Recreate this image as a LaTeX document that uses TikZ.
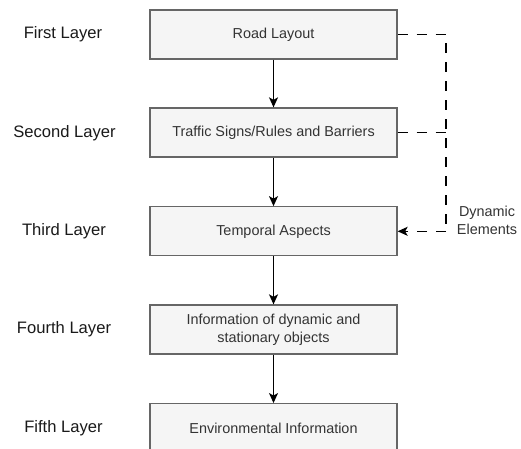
\documentclass[tikz,border=0pt]{standalone}
\usepackage{fontspec}
\setmainfont{Liberation Sans}
\usetikzlibrary{arrows.meta}
\definecolor{boxfill}{HTML}{F5F5F5}
\definecolor{boxline}{HTML}{666666}
\definecolor{boxtext}{HTML}{333333}
\definecolor{lbltext}{HTML}{1A1A1A}
\tikzset{
  layerbox/.style={draw=boxline, fill=boxfill, line width=1.3pt, minimum width=247pt, minimum height=49pt, inner sep=0pt, text=boxtext, font=\fontsize{14.4pt}{18.3pt}\selectfont, align=center},
  layerlbl/.style={text=lbltext, font=\fontsize{16.6pt}{20pt}\selectfont, inner sep=0pt},
  sidelbl/.style={text=boxtext, font=\fontsize{14.4pt}{18.3pt}\selectfont, align=center, inner sep=0pt},
  tip/.style={-{Stealth[length=10pt,width=9pt,inset=2.5pt]}},
  flow/.style={line width=1.3pt, tip},
  dashline/.style={line width=1.3pt, dash pattern=on 10pt off 9pt},
}
\begin{document}
\begin{tikzpicture}[x=1pt,y=-1pt]
\useasboundingbox (0,0) rectangle (521,448);
\clip (0,0) rectangle (521,448);
\fill[white] (0,0) rectangle (521,448);
\node[layerbox] (b1) at (273.5,34.5) {Road Layout};
\node[layerbox] (b2) at (273.5,132.5) {Traffic Signs/Rules and Barriers};
\node[layerbox] (b3) at (273.5,231.3) {Temporal Aspects};
\node[layerbox] (b4) at (273.5,329.5) {Information of dynamic and\\stationary objects};
\node[layerbox] (b5) at (273.5,428.2) {Environmental Information};
\node[layerlbl] (l1) at (63,34) {First Layer};
\node[layerlbl] (l2) at (64.5,133) {Second Layer};
\node[layerlbl] (l3) at (64,231) {Third Layer};
\node[layerlbl] (l4) at (64,329) {Fourth Layer};
\node[layerlbl] (l5) at (63.5,428) {Fifth Layer};
\node[sidelbl] (dyn) at (487,220) {Dynamic\\Elements};
\coordinate (dj) at (446,231.3);
\draw[flow] (b1) -- (b2);
\draw[flow] (b2) -- (b3);
\draw[flow] (b3) -- (b4);
\draw[flow] (b4) -- (b5);
\draw[dashline] (b1.east) -| (dj);
\draw[dashline] (b2.east) -- (b2.east -| dj);
\draw[dashline, tip] (dj) -- (b3.east);
\end{tikzpicture}
\end{document}
